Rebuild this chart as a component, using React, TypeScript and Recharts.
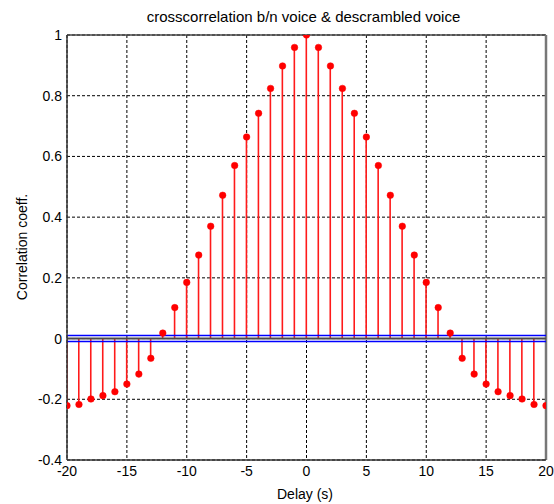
import React from "react";
import {
  ComposedChart,
  Bar,
  Line,
  XAxis,
  YAxis,
  CartesianGrid,
  ReferenceLine,
} from "recharts";

/* ── Data ───────────────────────────────────────── */

const lags = [
  -20, -19, -18, -17, -16, -15, -14, -13, -12, -11, -10, -9, -8, -7, -6, -5, -4, -3, -2, -1, 0,
  1, 2, 3, 4, 5, 6, 7, 8, 9, 10, 11, 12, 13, 14, 15, 16, 17, 18, 19, 20,
];

const corr = [
  -0.221, -0.217, -0.199, -0.188, -0.175, -0.15, -0.117, -0.065, 0.018, 0.102, 0.185, 0.275,
  0.37, 0.472, 0.57, 0.664, 0.742, 0.824, 0.898, 0.959, 1.0,
  0.959, 0.898, 0.824, 0.742, 0.664, 0.57, 0.472, 0.37, 0.275, 0.185, 0.102, 0.018, -0.065,
  -0.117, -0.15, -0.175, -0.188, -0.199, -0.217, -0.221,
];

const xTicks = [-20, -15, -10, -5, 0, 5, 10, 15, 20];
const yTicks = [-0.4, -0.2, 0, 0.2, 0.4, 0.6, 0.8, 1];
const bounds = [0.01, -0.01];

const chartData = lags.map((lag, i) => ({ lag, value: corr[i] }));

const font = "'Liberation Sans', Arial, sans-serif";
const tickStyle = { fontSize: 14, fill: "#000", fontFamily: font };

export default function App() {
  return (
    <div
      style={{
        position: "absolute",
        left: 0,
        top: 0,
        width: 554,
        height: 504,
        background: "#fff",
        fontFamily: font,
      }}
    >
      <div
        style={{
          position: "absolute",
          top: 8,
          left: 0,
          width: 607,
          textAlign: "center",
          fontSize: 15,
          lineHeight: "18px",
        }}
      >
        crosscorrelation b/n voice &amp; descrambled voice
      </div>
      <div
        style={{
          position: "absolute",
          top: 485,
          left: 0,
          width: 610,
          textAlign: "center",
          fontSize: 14,
          lineHeight: "18px",
        }}
      >
        Delay (s)
      </div>
      <div
        style={{
          position: "absolute",
          left: 22,
          top: 247,
          transform: "translate(-50%, -50%) rotate(-90deg)",
          whiteSpace: "nowrap",
          fontSize: 14,
          lineHeight: "18px",
        }}
      >
        Correlation coeff.
      </div>
      <ComposedChart
        width={554}
        height={504}
        data={chartData}
        margin={{ top: 35, right: 8, bottom: 0, left: 0 }}
        style={{ position: "absolute", left: 0, top: 0 }}
      >
        <CartesianGrid
          stroke="#000"
          strokeDasharray="3 2"
          horizontalValues={yTicks}
          verticalValues={xTicks}
        />
        <XAxis
          dataKey="lag"
          type="number"
          domain={[-20, 20]}
          ticks={xTicks}
          height={44}
          tickSize={0}
          tickMargin={6}
          tick={tickStyle}
          axisLine={{ stroke: "#333", strokeWidth: 1.5 }}
          interval={0}
          allowDataOverflow
        />
        <YAxis
          type="number"
          domain={[-0.4, 1]}
          ticks={yTicks}
          width={67}
          tickSize={0}
          tickMargin={5}
          tick={tickStyle}
          axisLine={{ stroke: "#333", strokeWidth: 1.5 }}
          interval={0}
          allowDataOverflow
        />
        <ReferenceLine y={1} stroke="#444" strokeWidth={1.5} />
        <ReferenceLine x={20} stroke="#777" strokeWidth={2.5} />
        <Bar dataKey="value" fill="#ff1a1a" barSize={1.6} isAnimationActive={false} />
        <ReferenceLine y={0} stroke="#4a4a4a" strokeWidth={2} />
        {bounds.map((b) => (
          <ReferenceLine key={b} y={b} stroke="#0000ff" strokeWidth={1.5} />
        ))}
        <Line
          dataKey="value"
          stroke="none"
          dot={{ r: 3.3, fill: "#ff0000", stroke: "#ff0000", strokeWidth: 0.5 }}
          activeDot={false}
          isAnimationActive={false}
        />
      </ComposedChart>
    </div>
  );
}
